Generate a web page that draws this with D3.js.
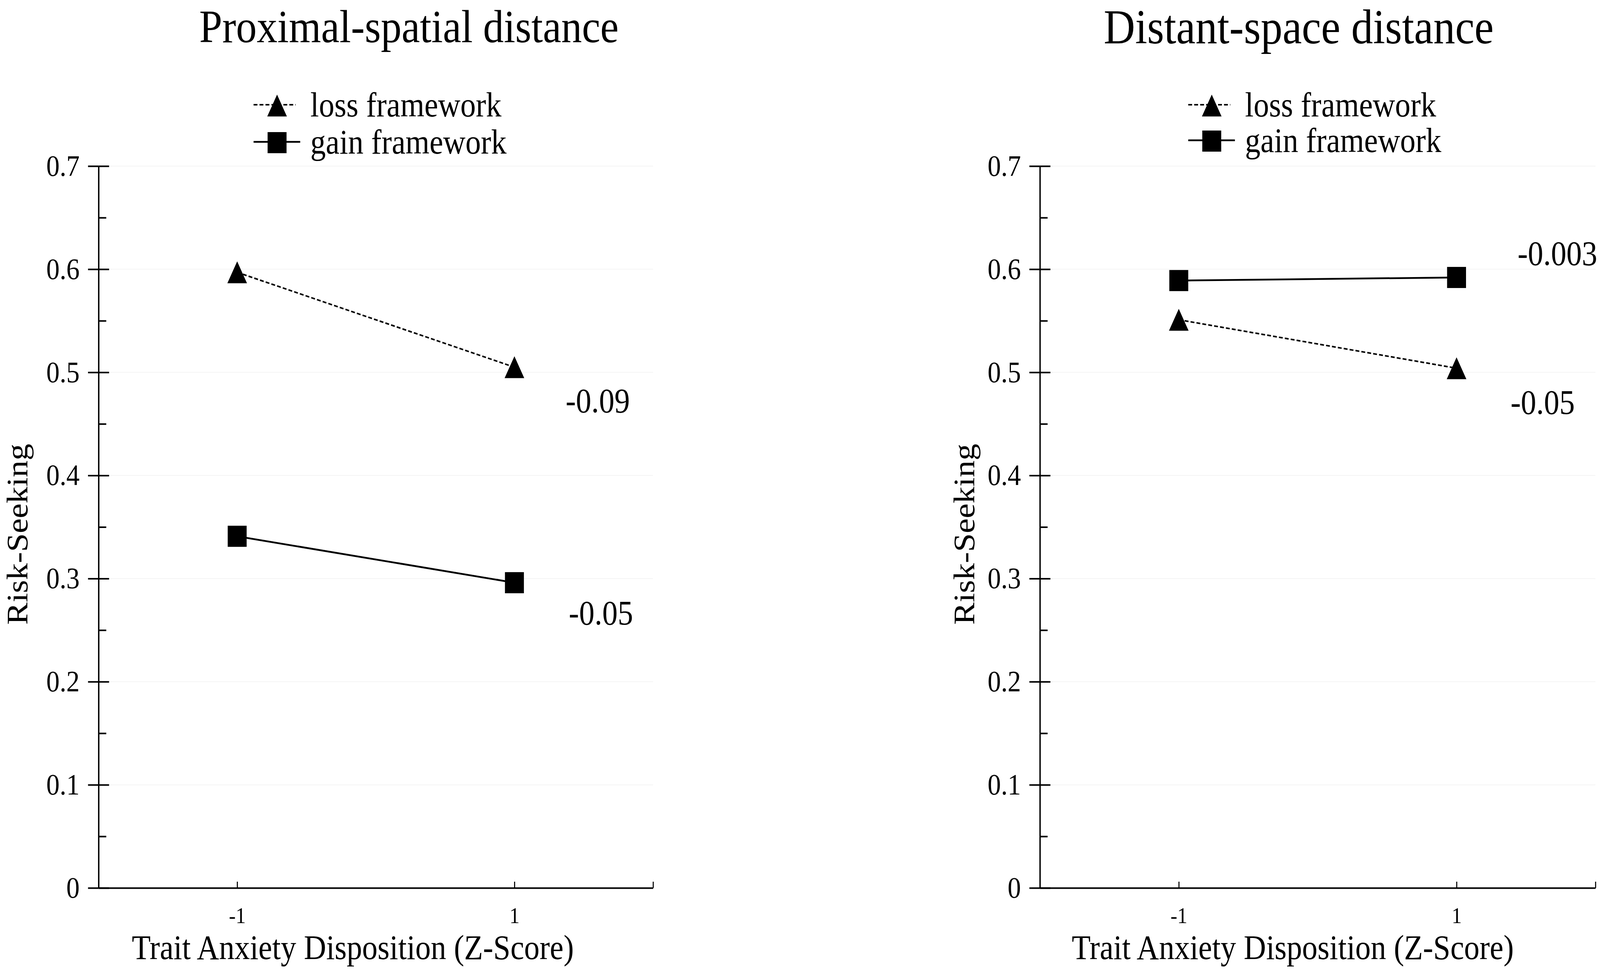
<!DOCTYPE html>
<html><head><meta charset="utf-8">
<script src="https://cdn.jsdelivr.net/npm/d3@7"></script>
<style>html,body{margin:0;padding:0;background:#fff;overflow:hidden;width:100%;height:100%;} svg{display:block;width:100vw;height:100vh;}</style>
</head><body>
<script>
// ---------- data ----------
const categories = [-1, 1];
const xTickValues = [-1, 1, 2];
const xTickLabels = ["-1", "1", ""];
const yTickValues = [0, 0.1, 0.2, 0.3, 0.4, 0.5, 0.6, 0.7];
const yMinorTicks = [0.05, 0.15, 0.25, 0.35, 0.45, 0.55, 0.65];
const panelTitles = ["Proximal-spatial distance", "Distant-space distance"];
const seriesNames = ["loss framework", "gain framework"];
const lossValues = [[0.597, 0.505], [0.551, 0.504]];
const gainValues = [[0.341, 0.296], [0.589, 0.592]];
const lossSlopes = ["-0.09", "-0.05"];
const gainSlopes = ["-0.05", "-0.003"];
const xAxisTitle = "Trait Anxiety Disposition (Z-Score)";
const yAxisTitle = "Risk-Seeking";

// ---------- layout ----------
const W = 4562, H = 2482;
const yTop = 425, yBottom = 2272;
const layout = [
  {axisX: 281, endX: 1862, titleX: 1166, titleY: 108, titleSize: 118,
   legendX: 790, legendY: [270, 365], yLabelX: 78, xLabelX: 1006,
   annLoss: [146, 115], annGain: [155, 107]},
  {axisX: 2965, endX: 4549, titleX: 3703, titleY: 111, titleSize: 124,
   legendX: 3455, legendY: [270, 361], yLabelX: 2778, xLabelX: 3686,
   annLoss: [154, 117], annGain: [174, -32]}
];
const FONT = "'Liberation Serif','Times New Roman',serif";

const svg = d3.select("body").append("svg")
  .attr("viewBox", `0 0 ${W} ${H}`)
  .attr("preserveAspectRatio", "none")
  .style("background", "#fff");

const y = d3.scaleLinear().domain([0, 0.7]).range([yBottom, yTop]);

const triPath = "M0,-28L28,28L-28,28Z";

function drawMarker(g, type, cx, cy) {
  if (type === 0) {
    g.append("path").attr("d", triPath)
      .attr("transform", `translate(${cx},${cy})`).attr("fill", "#000");
  } else {
    g.append("rect").attr("x", cx - 27).attr("y", cy - 27)
      .attr("width", 54).attr("height", 54).attr("fill", "#000");
  }
}

layout.forEach((L, p) => {
  const g = svg.append("g");
  const x = d3.scaleLinear().domain([-2, 2]).range([L.axisX, L.endX]);

  // faint gridlines
  g.append("g").selectAll("line").data(yTickValues.slice(1)).join("line")
    .attr("x1", L.axisX).attr("x2", L.endX)
    .attr("y1", d => y(d)).attr("y2", d => y(d))
    .attr("stroke", "#f4f4f4").attr("stroke-width", 2);

  // y axis (labels + outer half of major ticks)
  const ya = g.append("g").attr("transform", `translate(${L.axisX},0)`)
    .call(d3.axisLeft(y).tickValues(yTickValues).tickSize(30).tickPadding(24)
      .tickSizeOuter(0).tickFormat(d => String(d)));
  ya.select(".domain").attr("stroke-width", 4);
  ya.selectAll(".tick line").attr("stroke-width", 4);
  ya.selectAll("text").attr("font-family", FONT).attr("font-size", 76).attr("fill", "#000");
  // inner half of major ticks
  const yb = g.append("g").attr("transform", `translate(${L.axisX},0)`)
    .call(d3.axisRight(y).tickValues(yTickValues).tickSize(30).tickFormat(""));
  yb.select(".domain").remove();
  yb.selectAll(".tick line").attr("stroke-width", 4);
  // minor ticks
  const ym = g.append("g").attr("transform", `translate(${L.axisX},0)`)
    .call(d3.axisRight(y).tickValues(yMinorTicks).tickSize(22).tickFormat(""));
  ym.select(".domain").remove();
  ym.selectAll(".tick line").attr("stroke-width", 4);

  // x axis
  const xa = g.append("g").attr("transform", `translate(0,${yBottom})`)
    .call(d3.axisBottom(x).tickValues(xTickValues).tickSize(-16).tickPadding(49)
      .tickSizeOuter(0).tickFormat((d, i) => xTickLabels[i]));
  xa.select(".domain").attr("stroke-width", 4);
  xa.selectAll(".tick line").attr("stroke-width", 3);
  xa.selectAll("text").attr("font-family", FONT).attr("font-size", 58).attr("fill", "#000");

  // lines
  const line = d3.line().x((d, i) => x(categories[i])).y(d => y(d));
  g.append("path").datum(lossValues[p]).attr("d", line)
    .attr("fill", "none").attr("stroke", "#000").attr("stroke-width", 4)
    .attr("stroke-dasharray", "11,6");
  g.append("path").datum(gainValues[p]).attr("d", line)
    .attr("fill", "none").attr("stroke", "#000").attr("stroke-width", 4.5);

  lossValues[p].forEach((v, i) => drawMarker(g, 0, x(categories[i]), y(v)));
  gainValues[p].forEach((v, i) => drawMarker(g, 1, x(categories[i]), y(v)));

  // slope annotations
  const lastI = categories.length - 1;
  g.append("text").attr("x", x(categories[lastI]) + L.annLoss[0])
    .attr("y", y(lossValues[p][lastI]) + L.annLoss[1])
    .attr("font-family", FONT).attr("font-size", 88).text(lossSlopes[p]);
  g.append("text").attr("x", x(categories[lastI]) + L.annGain[0])
    .attr("y", y(gainValues[p][lastI]) + L.annGain[1])
    .attr("font-family", FONT).attr("font-size", 88).text(gainSlopes[p]);

  // title
  g.append("text").attr("x", L.titleX).attr("y", L.titleY)
    .attr("text-anchor", "middle").attr("font-family", FONT)
    .attr("font-size", L.titleSize).text(panelTitles[p]);

  // legend
  seriesNames.forEach((name, s) => {
    const cy = L.legendY[s];
    g.append("line").attr("x1", L.legendX - 67).attr("x2", L.legendX + (s === 0 ? 53 : 66))
      .attr("y1", cy - 2).attr("y2", cy - 2).attr("stroke", "#000")
      .attr("stroke-width", s === 0 ? 4 : 4.5)
      .attr("stroke-dasharray", s === 0 ? "11,6" : null);
    drawMarker(g, s, L.legendX, cy);
    g.append("text").attr("x", L.legendX + 95).attr("y", cy + 28)
      .attr("font-family", FONT).attr("font-size", 88).text(name);
  });

  // axis titles
  g.append("text").attr("transform", `translate(${L.yLabelX},1367) rotate(-90)`)
    .attr("text-anchor", "middle").attr("font-family", FONT)
    .attr("font-size", 86).text(yAxisTitle);
  g.append("text").attr("x", L.xLabelX).attr("y", 2454)
    .attr("text-anchor", "middle").attr("font-family", FONT)
    .attr("font-size", 88).text(xAxisTitle);
});
</script>
</body></html>
